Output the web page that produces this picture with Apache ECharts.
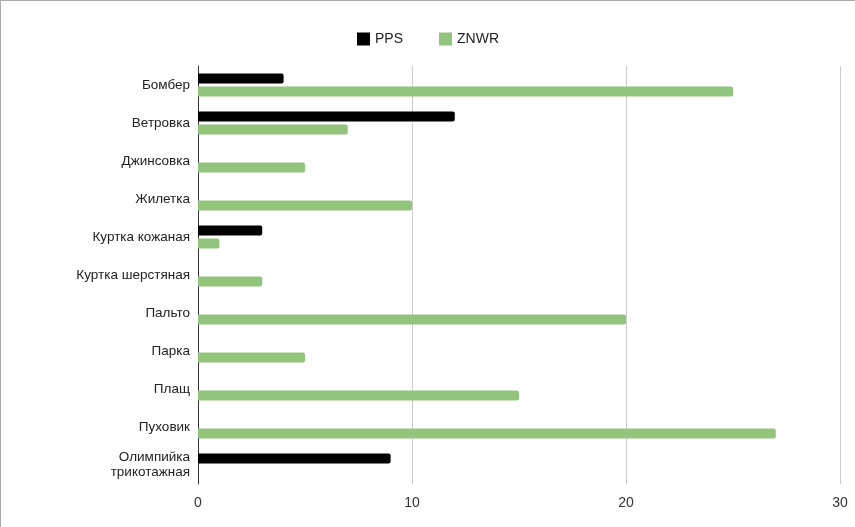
<!DOCTYPE html>
<html><head><meta charset="utf-8">
<script src="https://cdn.jsdelivr.net/npm/echarts@6/dist/echarts.min.js"></script>
<style>
html,body{margin:0;padding:0;background:#fff;}
#c{width:854px;height:526px;border-left:1px solid #aaa;border-top:1px solid #aaa;}
</style></head>
<body><div id="c"></div>
<script>
const categories = ['Бомбер','Ветровка','Джинсовка','Жилетка','Куртка кожаная','Куртка шерстяная','Пальто','Парка','Плащ','Пуховик','Олимпийка\nтрикотажная'];
const ppsValues = [4,12,0,0,3,0,0,0,0,0,9];
const znwrValues = [25,7,5,10,1,3,20,5,15,27,0];
const xTicks = [0,10,20,30];

const chart = echarts.init(document.getElementById('c'));
const font = 'Arial, "Liberation Sans", sans-serif';
chart.setOption({
  animation:false,
  legend:{top:26,left:'center',itemWidth:13,itemHeight:13,itemGap:36,icon:'rect',
    textStyle:{fontFamily:font,fontSize:14,color:'#222'},data:['PPS','ZNWR']},
  grid:{left:197,right:15,top:65,bottom:43,containLabel:false},
  xAxis:{type:'value',min:0,max:30,interval:10,
    axisLine:{show:false},axisTick:{show:false},
    splitLine:{lineStyle:{color:'#ccc'}},
    axisLabel:{margin:12,fontFamily:font,fontSize:14,color:'#333',
      formatter:v=>xTicks.includes(v)?String(v):''}},
  yAxis:{type:'category',data:categories,inverse:true,
    axisLine:{lineStyle:{color:'#333'}},axisTick:{show:false},
    axisLabel:{margin:8,fontFamily:font,fontSize:13.5,color:'#222',lineHeight:15}},
  series:[
    {name:'PPS',type:'bar',data:ppsValues,barWidth:10,barGap:'30%',
      itemStyle:{color:'#000',borderRadius:[0,2,2,0]}},
    {name:'ZNWR',type:'bar',data:znwrValues,barWidth:10,
      itemStyle:{color:'#93c47d',borderRadius:[0,2,2,0]}}
  ]
});
</script></body></html>
